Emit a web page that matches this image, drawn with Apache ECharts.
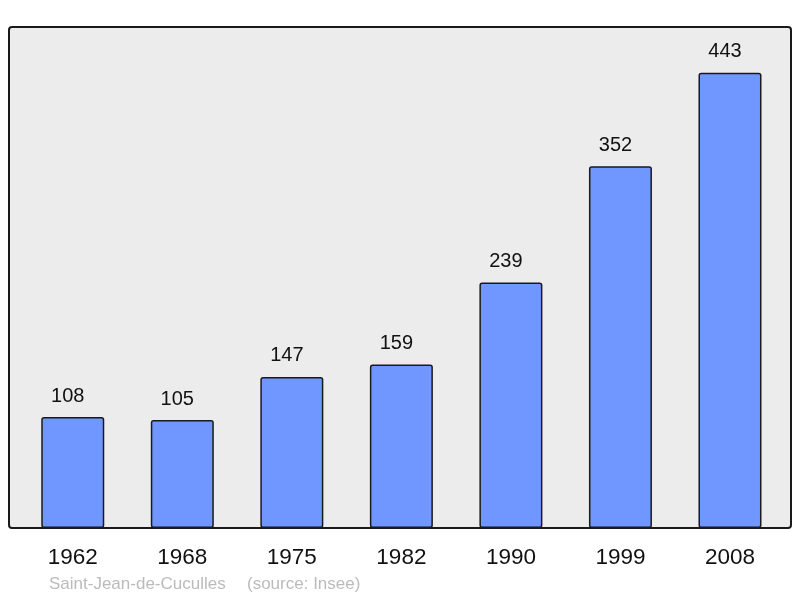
<!DOCTYPE html>
<html>
<head>
<meta charset="utf-8">
<script src="https://cdn.jsdelivr.net/npm/echarts@6/dist/echarts.min.js"></script>
<style>html,body{margin:0;padding:0;background:#fff}#c{width:800px;height:598px}</style>
</head>
<body>
<div id="c"></div>
<script>
var years = ['1962', '1968', '1975', '1982', '1990', '1999', '2008'];
var population = [108, 105, 147, 159, 239, 352, 443];
var placeName = 'Saint-Jean-de-Cuculles';
var sourceText = '(source: Insee)';

var chart = echarts.init(document.getElementById('c'));
chart.setOption({
  animation: false,
  backgroundColor: '#ffffff',
  textStyle: { fontFamily: 'Liberation Sans, Arial, sans-serif' },
  graphic: [
    {
      type: 'rect', z: -10,
      shape: { x: 9, y: 27, width: 782, height: 501, r: 3 },
      style: { fill: '#ececec', stroke: '#1a1a1a', lineWidth: 2 }
    },
    {
      type: 'text', left: 49, top: 576,
      style: { text: placeName, fill: '#bbbbbb', font: '17px "Liberation Sans", Arial, sans-serif' }
    },
    {
      type: 'text', left: 247, top: 576,
      style: { text: sourceText, fill: '#bbbbbb', font: '17px "Liberation Sans", Arial, sans-serif' }
    }
  ],
  grid: { left: 18, right: 15.25, top: 27, bottom: 70 },
  xAxis: {
    type: 'category',
    data: years,
    axisLine: { show: false },
    axisTick: { show: false },
    axisLabel: { color: '#111', fontSize: 22.5, margin: 18, fontFamily: 'Liberation Sans, Arial, sans-serif' }
  },
  yAxis: {
    type: 'value', min: 0, max: 487.5, show: false,
    splitLine: { show: false }
  },
  series: [{
    type: 'bar',
    data: population,
    barWidth: 63,
    itemStyle: { color: '#7097ff', borderColor: '#1a1a1a', borderWidth: 1.5, borderRadius: 2 },
    label: {
      show: true, position: 'top', distance: 11, offset: [-5, 0],
      color: '#111', fontSize: 20, fontFamily: 'Liberation Sans, Arial, sans-serif'
    }
  }]
});
</script>
</body>
</html>
